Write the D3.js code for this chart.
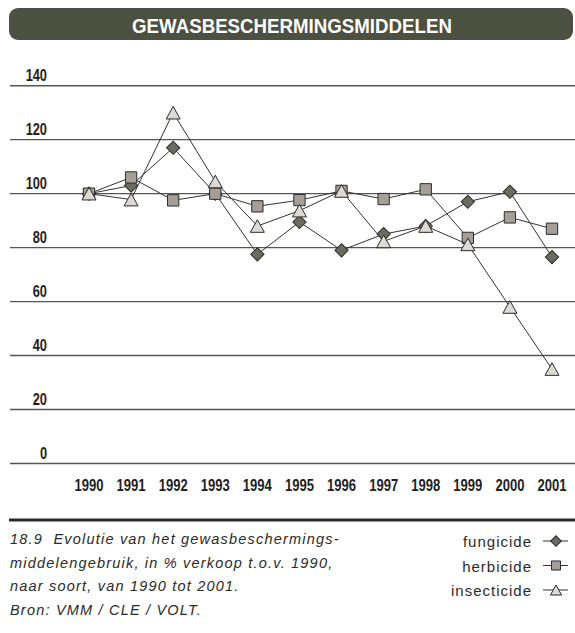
<!DOCTYPE html>
<html>
<head>
<meta charset="utf-8">
<script src="https://cdn.jsdelivr.net/npm/d3@7"></script>
<style>
  body { margin: 0; background: #fff; }
  svg { display: block; }
</style>
</head>
<body>
<script>
// data (index, 1990 = 100)
var years = [1990, 1991, 1992, 1993, 1994, 1995, 1996, 1997, 1998, 1999, 2000, 2001];
var fungicide   = [100, 103, 117, 100, 77.5, 89.5, 79, 85, 88, 97, 100.7, 76.5];
var herbicide   = [100, 106, 97.5, 100, 95.3, 97.6, 101, 98, 101.6, 83.6, 91.2, 87];
var insecticide = [100, 97.8, 130, 104.5, 88, 93.7, 101, 82.3, 88, 81.2, 58, 35];
var yTicks = [0, 20, 40, 60, 80, 100, 120, 140];
var seriesNames = ["fungicide", "herbicide", "insecticide"];
var title = "GEWASBESCHERMINGSMIDDELEN";
var caption = [
  "18.9  Evolutie van het gewasbeschermings-",
  "middelengebruik, in % verkoop t.o.v. 1990,",
  "naar soort, van 1990 tot 2001.",
  "Bron: VMM / CLE / VOLT."
];

var W = 575, H = 633;
var boldFont = "'Liberation Sans Narrow', 'Arial Narrow', 'Liberation Sans', sans-serif";
var textFont = "'Liberation Sans', Arial, sans-serif";

var svg = d3.select("body").append("svg")
    .attr("width", W)
    .attr("height", H);

// no narrow font here, so squeeze the bold labels a bit
function condense(sel, k) {
  sel.each(function() {
    var w = this.getComputedTextLength();
    d3.select(this)
      .attr("textLength", w * k)
      .attr("lengthAdjust", "spacingAndGlyphs");
  });
}

// title bar
svg.append("rect")
    .attr("x", 9).attr("y", 8)
    .attr("width", 564).attr("height", 32)
    .attr("rx", 9).attr("ry", 9)
    .attr("fill", "#4b5041");

svg.append("text")
    .attr("x", 292).attr("y", 32.5)
    .attr("text-anchor", "middle")
    .style("font-family", boldFont)
    .style("font-weight", "bold")
    .style("font-size", "21px")
    .attr("fill", "#fff")
    .text(title)
    .call(condense, 0.89);

var x = d3.scaleLinear()
    .domain([1990, 2001])
    .range([89, 552]);

var y = d3.scaleLinear()
    .domain([0, 140])
    .range([463.5, 85.7]);

// grid
var grid = svg.append("g").attr("class", "grid");
grid.selectAll("line")
    .data(yTicks)
  .enter().append("line")
    .attr("x1", 10).attr("x2", W)
    .attr("y1", function(d) { return y(d); })
    .attr("y2", function(d) { return y(d); })
    .attr("stroke", "#555")
    .attr("stroke-width", 1.4);

// y labels sit above the lines
svg.append("g").selectAll("text")
    .data(yTicks)
  .enter().append("text")
    .attr("x", 47)
    .attr("y", function(d) { return y(d) - 5; })
    .attr("text-anchor", "end")
    .style("font-family", boldFont)
    .style("font-weight", "bold")
    .style("font-size", "16px")
    .attr("fill", "#1e1e1e")
    .text(function(d) { return d; })
    .call(condense, 0.8);

// x labels
svg.append("g").selectAll("text")
    .data(years)
  .enter().append("text")
    .attr("x", function(d) { return x(d); })
    .attr("y", 490.5)
    .attr("text-anchor", "middle")
    .style("font-family", boldFont)
    .style("font-weight", "bold")
    .style("font-size", "16px")
    .attr("fill", "#1e1e1e")
    .text(function(d) { return d; })
    .call(condense, 0.815);

var series = [
  {name: seriesNames[0], values: fungicide,   shape: "diamond",  fill: "#6c6b5d"},
  {name: seriesNames[1], values: herbicide,   shape: "square",   fill: "#a59f97"},
  {name: seriesNames[2], values: insecticide, shape: "triangle", fill: "#dddad4"}
];

function marker(shape, scale) {
  scale = scale || 1;
  if (shape === "diamond") return d3.symbol().type(d3.symbolSquare).size(88 * scale * scale)();
  if (shape === "square") return d3.symbol().type(d3.symbolSquare).size(128 * scale * scale)();
  // triangle centred on its bounding box
  var w = 7 * scale, h = 6.3 * scale;
  return "M0," + (-h) + "L" + w + "," + h + "L" + (-w) + "," + h + "Z";
}
function rot(shape) { return shape === "diamond" ? " rotate(45)" : ""; }

var line = d3.line()
    .x(function(d, i) { return x(years[i]); })
    .y(function(d) { return y(d); });

var plot = svg.append("g").attr("class", "plot");

series.forEach(function(s) {
  var g = plot.append("g").attr("class", "series " + s.name);
  g.append("path")
      .datum(s.values)
      .attr("d", line)
      .attr("fill", "none")
      .attr("stroke", "#333")
      .attr("stroke-width", 1);
  g.selectAll("path.m")
      .data(s.values)
    .enter().append("path")
      .attr("class", "m")
      .attr("d", marker(s.shape))
      .attr("transform", function(d, i) { return "translate(" + x(years[i]) + "," + y(d) + ")" + rot(s.shape); })
      .attr("fill", s.fill)
      .attr("stroke", "#2b2b2b")
      .attr("stroke-width", 1);
});

// separator
svg.append("line")
    .attr("x1", 9).attr("x2", W)
    .attr("y1", 520).attr("y2", 520)
    .attr("stroke", "#2a2a2a")
    .attr("stroke-width", 3);

// caption
svg.append("g").selectAll("text")
    .data(caption)
  .enter().append("text")
    .attr("x", 10)
    .attr("y", function(d, i) { return 544 + i * 23.7; })
    .style("font-family", textFont)
    .style("font-style", "italic")
    .style("font-size", "14.5px")
    .style("letter-spacing", "1.2px")
    .attr("fill", "#2a2a2a")
    .attr("xml:space", "preserve")
    .style("white-space", "pre")
    .text(function(d) { return d; });

// legend
var legend = svg.append("g").attr("class", "legend")
  .selectAll("g")
    .data(series)
  .enter().append("g")
    .attr("transform", function(d, i) { return "translate(0," + (541 + i * 24.5) + ")"; });

legend.append("text")
    .attr("x", 532).attr("y", 6)
    .attr("text-anchor", "end")
    .style("font-family", textFont)
    .style("font-size", "15px")
    .style("letter-spacing", "1px")
    .attr("fill", "#2a2a2a")
    .text(function(d) { return d.name; });

legend.append("line")
    .attr("x1", 543).attr("x2", 568)
    .attr("stroke", "#333").attr("stroke-width", 1);

legend.append("path")
    .attr("d", function(d) { return marker(d.shape, 0.8); })
    .attr("transform", function(d) { return "translate(556,0)" + rot(d.shape); })
    .attr("fill", function(d) { return d.fill; })
    .attr("stroke", "#2b2b2b")
    .attr("stroke-width", 1);
</script>
</body>
</html>
